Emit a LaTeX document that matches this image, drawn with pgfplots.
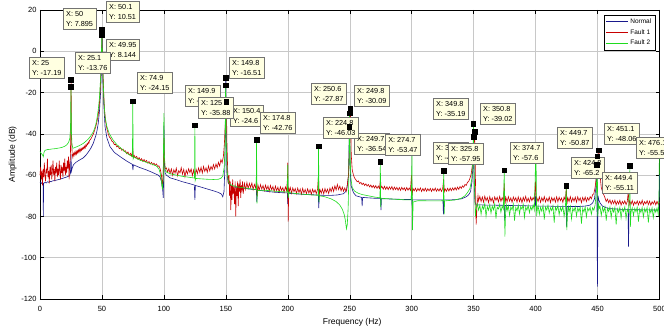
\documentclass[border=0pt]{standalone}
\usepackage{fontspec}
\setmainfont{Liberation Sans}
\usepackage{pgfplots}
\pgfplotsset{compat=1.18}
\definecolor{cN}{RGB}{25,25,140}
\definecolor{cFa}{RGB}{200,0,0}
\definecolor{cFb}{RGB}{30,220,30}
\definecolor{tipfill}{RGB}{255,255,225}
\definecolor{gridc}{RGB}{200,200,200}
\tikzset{tip/.style={draw=black!55, fill=tipfill, line width=0.4pt, anchor=north west, align=left, inner xsep=3pt, inner ysep=2.8pt, font=\fontsize{7.3}{10}\selectfont}}
\newcommand\tip[4]{\node[tip] at (axis cs:#1,#2) {X: #3\\Y: #4};}
\begin{document}
\begin{tikzpicture}
\begin{axis}[name=ax,
  scale only axis, width=619.5pt, height=289pt,
  xmin=0, xmax=500, ymin=-120, ymax=20,
  xtick={0,50,...,500}, ytick={-120,-100,...,20},
  grid=major, major grid style={gridc, line width=0.45pt},
  tick align=inside, major tick length=4pt,
  axis line style={black, line width=0.6pt},
  tick style={black, line width=0.5pt},
  clip=false,
  /pgf/number format/assume math mode=true,
  ticklabel style={font=\fontsize{7.5}{8}\selectfont},
  xticklabel style={yshift=-3.5pt},
  xlabel={Frequency (Hz)}, ylabel={Amplitude (dB)},
  label style={font=\fontsize{8.5}{9}\selectfont},
  xlabel style={at={(axis description cs:0.504,-0.079)}, anchor=center},
  ylabel style={at={(axis description cs:-0.044,0.5)}, anchor=center},
  legend style={at={(rel axis cs:0.9927,0.983)}, anchor=north east, font=\fontsize{6.5}{7}\selectfont, draw=black, line width=0.4pt, inner sep=1.5pt, row sep=0.5pt, cells={anchor=west}},
  legend image code/.code={\draw[#1, line width=0.8pt] (0pt,0pt) -- (22pt,0pt);},
  every axis plot/.append style={line width=0.6pt},
]
\addplot[cN, mark=none] coordinates {
(0,-63.5)(1,-64)(2,-63.4)(2.5,-64)(2.7,-80)(2.9,-64)(4,-63.5)(5,-63.8)(6,-63.2)(7,-63.5)(8,-63)(9,-63.2)(10,-62.8)(12,-62.6)(14,-62.3)(16,-62)(18,-61.6)(20,-61.2)(22,-60.8)(23,-60.5)(24,-60)(24.6,-59)(25,-50)(25.4,-58)(26,-56.5)(27,-55)(29,-53.8)(31,-53)(33,-52.3)(35,-51.6)(37,-50.4)(39,-48.8)(41,-47)(43,-44.6)(45,-41)(46,-38.5)(47,-35)(48,-29)(49,-19)(49.5,-10)(49.8,-1)(50.1,10.51)(50.4,-3)(50.8,-14)(51.5,-26)(52.5,-36.5)(54,-42)(56.5,-46.2)(60,-49)(64.6,-51)(70,-53.2)(74.6,-54.8)(75,-57.5)(75.4,-55)(80,-56.2)(86,-57.5)(90,-58.5)(95.5,-60)(97,-61)(98,-63)(99,-67)(99.5,-71)(99.8,-60)(100,-36)(100.3,-52)(101,-59)(102,-60)(105,-61.3)(110,-62.2)(115,-63.2)(120,-64)(124.6,-64.8)(125,-72)(125.4,-65)(130,-65.8)(135,-66.7)(140,-67.6)(144,-68.4)(146.5,-69.2)(147.5,-70.5)(148.5,-68)(149.3,-55)(149.9,-12.85)(150.3,-40)(151,-60)(152,-64)(155,-65.6)(160,-66)(165,-66.4)(170,-66.8)(174.6,-67)(175,-73)(175.4,-67.2)(180,-67.6)(185,-68)(190,-68.3)(195,-68.5)(199.6,-68.6)(200,-74)(200.4,-68.8)(205,-69)(210,-69.2)(215,-69.4)(220,-69.5)(224.6,-69.6)(225,-76)(225.4,-69.7)(230,-69.8)(235,-69.8)(240,-69.6)(245,-69)(247.5,-67.5)(249,-60)(249.7,-36.5)(250.2,-55)(251,-65)(253,-68.5)(255,-70)(258,-70.5)(259.6,-70.8)(260,-75)(260.4,-70.8)(265,-71)(270,-71.2)(274.8,-71.3)(275.2,-77)(275.6,-71.4)(280,-71.5)(285,-71.6)(290,-71.7)(295,-71.8)(299.6,-71.8)(300,-62)(300.3,-75)(300.7,-72)(305,-72)(310,-72)(315,-72)(320,-72)(325.2,-72)(325.6,-79)(326,-72)(330,-72)(335,-71.9)(340,-71.5)(344,-70.5)(346,-69.5)(347.5,-68)(348.7,-63)(349.4,-55)(349.9,-41.5)(350.4,-62)(351,-73)(352,-74.5)(355,-74.4)(360,-74.5)(365,-74.5)(370,-74.6)(374.6,-74.6)(375,-82)(375.4,-74.7)(380,-74.7)(385,-74.8)(390,-74.8)(395,-74.9)(399.6,-74.9)(400,-70)(400.4,-75)(405,-75)(410,-75)(415,-75.1)(420,-75.1)(424.6,-75.1)(425,-85)(425.4,-75.2)(430,-75.2)(435,-75.2)(440,-75)(444,-74.5)(446,-73.5)(447.5,-71.5)(448.7,-66)(449.4,-55.11)(449.9,-114)(450.4,-70)(451,-72)(452,-73.5)(454,-75)(457,-75.8)(460,-76.2)(465,-76.4)(470,-76.6)(474.6,-76.6)(475,-94.6)(475.4,-76.7)(480,-76.7)(485,-76.8)(490,-76.8)(495,-76.9)(499.6,-76.9)(500,-60)
};
\addlegendentry{Normal}
\addplot[cFa, mark=none] coordinates {
(0,-60)(0.5,-56)(1,-62)(1.5,-58)(2,-65)(2.5,-57)(3,-61)(3.5,-54)(4,-60)(4.5,-63)(5,-57)(5.5,-59)(6,-52)(6.5,-61)(7,-58)(7.5,-64)(8,-56)(8.5,-60)(9,-55)(9.5,-62)(10,-58)(10.5,-53)(11,-60)(11.5,-57)(12,-63)(12.5,-56)(13,-59)(13.5,-54)(14,-61)(14.5,-57)(15,-60)(15.5,-53)(16,-58)(16.5,-62)(17,-55)(17.5,-59)(18,-56)(18.5,-61)(19,-54)(19.5,-58)(20,-52)(20.5,-60)(21,-56)(21.5,-59)(22,-53)(22.5,-57)(23,-51)(23.5,-62)(24,-54)(24.5,-52)(24.8,-40)(25.1,-13.76)(25.4,-42)(26,-50)(26.5,-51.5)(27,-49.5)(27.5,-50.5)(28,-49)(28.5,-50)(29,-48.5)(29.5,-49.8)(30,-48.2)(30.5,-49.2)(31,-47.8)(31.5,-48.9)(32,-47.5)(32.5,-48.5)(33,-47.2)(33.5,-48)(34,-46.8)(34.5,-47.5)(35,-46.5)(35.5,-47.2)(36,-46)(36.5,-46.8)(37,-45.4)(37.5,-46)(38,-44.8)(38.5,-45.2)(39,-44)(39.5,-44.5)(40,-43.2)(41,-42.5)(42,-41.4)(43,-40.2)(44,-38.5)(45,-36.5)(46,-34)(47,-31)(48,-25)(48.8,-16)(49.4,-7)(49.8,0)(50,7.895)(50.3,-2)(50.8,-10)(51.4,-20)(52,-28)(53,-34)(54,-37.5)(55,-39.8)(56,-41.5)(57,-42.2)(58,-43.5)(59,-44)(60,-45.2)
(61,-45.1)(62,-46.3)(63,-45.9)(64,-47.2)(65,-46.8)(66,-48)(67,-47.4)(68,-48.6)(69,-48.2)(70,-49.6)(71,-48.8)(72,-50.2)(73,-49.5)(74,-50.8)(74.9,-47)(75.3,-51.5)(76,-50.4)(77,-51.6)(78,-50.9)(79,-52.3)(80,-51.5)(81,-52.8)(82,-52)(83,-53.3)(84,-52.4)(85,-53.6)(86,-52.9)(87,-54.2)(88,-53.4)(89,-54.6)(90,-53.8)(91,-55)(92,-54.2)(93,-55.3)(94,-54.6)(95,-55.8)(96,-55.5)(97,-57)(98,-60)(98.8,-66)(99.5,-58)(100,-42)(100.4,-52)(101,-57)(102,-56.5)(103,-58.5)(104,-56.8)(105,-59.2)(106,-57)(107,-60)(108,-57.4)(109,-59)(110,-56.6)(111,-60.3)(112,-57.8)(113,-58.9)(114,-56.4)(115,-59.6)(116,-57.2)(117,-60.8)(118,-57.6)(119,-59.4)(120,-56.9)(121,-58.8)(122,-57)(123,-60.2)(124,-57.5)(125,-61)(126,-57.1)(127,-59.3)(128,-56.5)(129,-58.7)(130,-56.2)(131,-59)(132,-55.8)(133,-58.2)(134,-56.4)(135,-58.6)(136,-55.5)(137,-57.9)(138,-55.8)(139,-57.3)(140,-54.9)(141,-57)(142,-54.6)(143,-56.4)(144,-53.8)(145,-55.6)(146,-52.5)(147,-54)(148,-51)(148.8,-45)(149.6,-35)(150.4,-24.6)(150.9,-45)(151.5,-58)(152,-64)(152.6,-60)(153,-70)(153.5,-63)(154,-77)(154.5,-65)(155,-72)(155.5,-62)(156,-69)(156.5,-66)(157,-74)(157.5,-63)(158,-80)(158.5,-66)(159,-70)(159.5,-63)(160,-75)(160.5,-64)(161,-68)(161.5,-62)(162,-71)(162.5,-65)(163,-67)(163.5,-63)(164,-69)(165,-64)(166,-67)(167,-63.5)(168,-66.5)(169,-64)(170,-66)(171,-63.8)(172,-67)(173,-64.5)(174,-66.2)(174.8,-62)(175.3,-70)(176,-65)(177,-67.2)(178,-64.6)(179,-66.8)(180,-65)(181,-67.5)(182,-64.8)(183,-66.9)(184,-65.2)(185,-67.8)(186,-65)(187,-67.1)(188,-65.5)(189,-68)(190,-65.3)(191,-67.6)(192,-65.8)(193,-68.2)(194,-65.6)(195,-67.4)(196,-66)(197,-68.3)(198,-65.7)(199,-67.5)(199.7,-62)(200,-54)(200.3,-82.5)(200.8,-66)(201,-68.5)(202,-66)(203,-68.8)(204,-66.2)(205,-68)(206,-66.5)(207,-69)(208,-66.3)(209,-68.4)(210,-66.7)(211,-69.2)(212,-66.4)(213,-68.6)(214,-66.9)(215,-69)(216,-66.6)(217,-68.7)(218,-67)(219,-69.3)(220,-66.8)(221,-68.5)(222,-67.1)(223,-69)(224,-66.9)(224.8,-60)(225.3,-70)(226,-67)(227,-68.8)(228,-66.7)(229,-69.1)(230,-66.5)(231,-68.4)(232,-66.8)(233,-68.9)(234,-66.3)(235,-68)(236,-65.8)(237,-67.9)(238,-65.2)(239,-67.2)(240,-64.5)(241,-67)(242,-65.3)(243,-67.6)(244,-65.8)(245,-67.8)(246,-66.2)(247,-68)(248,-65)(249,-60)(249.8,-45)(250.6,-27.87)(251.2,-50)(252,-57.5)(253,-60)(254,-61.5)(255,-62.3)(256,-63.2)(257,-62.8)(258,-64.1)(259,-63.5)(260,-64.6)(261,-63.9)(262,-65)(263,-64.2)(264,-65.3)(265,-64.5)(266,-65.7)(267,-64.8)(268,-66)(269,-65)(270,-66.2)(271,-65.1)(272,-66.4)(273,-65.3)(274,-66.5)(274.8,-62)(275.3,-66)(276,-65.5)(277,-66.8)(278,-65.4)(279,-66.9)(280,-65.6)(281,-67)(282,-65.7)(283,-66.8)(284,-65.5)(285,-67.2)(286,-65.8)(287,-67)(288,-65.9)(289,-67.3)(290,-66)(291,-67.4)(292,-65.9)(293,-67.1)(294,-66.1)(295,-67.5)(296,-66)(297,-67.3)(298,-66.2)(299,-67.4)(299.8,-60)(300.3,-70)(301,-66.5)(302,-67.6)(303,-66.3)(304,-67.8)(305,-66.4)(306,-67.5)(307,-66.2)(308,-67.9)(309,-66.5)(310,-67.7)(311,-66.3)(312,-67.8)(313,-66.6)(314,-67.6)(315,-66.4)(316,-67.9)(317,-66.5)(318,-67.6)(319,-66.3)(320,-67.8)(321,-66.6)(322,-67.7)(323,-66.4)(324,-67.9)(325,-66.5)(325.8,-62)(326.3,-68)(327,-66.6)(328,-67.8)(329,-66.4)(330,-67.7)(331,-66.3)(332,-67.5)(333,-66.2)(334,-67.3)(335,-66)(336,-67.2)(337,-65.8)(338,-66.9)(339,-65.5)(340,-66.4)(341,-65.2)(342,-65.9)(343,-64.5)(344,-65)(345,-63.5)(346,-63)(347,-61.5)(348,-59.5)(349,-55)(349.8,-48)(350.8,-39.02)(351.4,-60)(352,-84)(352.7,-75)(353.5,-70)(354,-72.5)(355,-70.3)(356,-72.8)(357,-70.6)(358,-73.1)(359,-70.2)(360,-72.4)(361,-70.8)(362,-73.3)(363,-70.4)(364,-72.6)(365,-71)(366,-73.4)(367,-70.5)(368,-72.2)(369,-70.7)(370,-73)(371,-70.3)(372,-72.7)(373,-70.9)(374,-72.5)(374.7,-64)(375.3,-74)(376,-70.8)(377,-72.9)(378,-70.4)(379,-72.6)(380,-71)(381,-73.2)(382,-70.6)(383,-72.3)(384,-70.9)(385,-73.1)(386,-70.5)(387,-72.8)(388,-71)(389,-73.4)(390,-70.7)(391,-72.5)(392,-70.3)(393,-72.9)(394,-71.1)(395,-73)(396,-70.6)(397,-72.4)(398,-70.8)(399,-72.2)(400,-63)(400.5,-73)(401,-71)(402,-72.8)(403,-70.5)(404,-73.2)(405,-70.9)(406,-72.6)(407,-70.4)(408,-73)(409,-71.2)(410,-72.7)(411,-70.6)(412,-73.3)(413,-70.8)(414,-72.5)(415,-71)(416,-73.1)(417,-70.5)(418,-72.9)(419,-70.7)(420,-72.4)(421,-71.1)(422,-73.2)(423,-70.6)(424,-72.3)(424.8,-66)(425.3,-74)(426,-70.9)(427,-72.8)(428,-70.4)(429,-73)(430,-71)(431,-72.6)(432,-70.7)(433,-73.1)(434,-70.5)(435,-72.4)(436,-71)(437,-73.3)(438,-70.8)(439,-72.5)(440,-70.6)(441,-72.8)(442,-70.9)(443,-72.2)(444,-70.4)(445,-71.5)(446,-69.5)(447,-69)(448,-66)(449,-61)(450,-55)(451.1,-48)(451.8,-58)(452.5,-63)(453,-66)(454,-68)(455,-69.5)(456,-71)(457,-72.8)(458,-71.6)(459,-73.4)(460,-72)(461,-74.1)(462,-72.3)(463,-73.8)(464,-72.1)(465,-74.4)(466,-72.6)(467,-74)(468,-72.2)(469,-74.5)(470,-72.7)(471,-73.9)(472,-72.4)(473,-74.3)(474,-72.8)(474.8,-68)(475.4,-75)(476,-72.5)(477,-74.2)(478,-72.3)(479,-74.6)(480,-72.9)(481,-74)(482,-72.5)(483,-74.4)(484,-72.7)(485,-74.1)(486,-72.2)(487,-74.5)(488,-72.8)(489,-73.9)(490,-72.4)(491,-74.3)(492,-72.6)(493,-74.6)(494,-72.9)(495,-74)(496,-72.5)(497,-74.4)(498,-72.7)(499,-74.2)(500,-73)
};
\addlegendentry{Fault 1}
\addplot[cFb, mark=none] coordinates {
(0,-48.6)(1,-49.5)(2,-50.2)(2.7,-51)(3.2,-49)(4,-48)(5,-47.8)(6,-47.6)(8,-47.5)(10,-47.3)(12,-47.2)(14,-47)(16,-46.8)(18,-46.5)(20,-46)(21,-45.6)(22,-45)(23,-44.2)(24,-42.5)(24.6,-38)(25,-17.19)(25.3,-38)(25.8,-45)(26.5,-47)(27.5,-46.8)(29,-46.4)(31,-45.9)(33,-45.3)(35,-44.6)(37,-43.6)(39,-42.5)(41,-41)(43,-39)(44,-37.5)(45,-35.5)(46,-32.5)(47,-28.4)(48,-22.5)(48.8,-14)(49.4,-5)(49.95,8.144)(50.4,-4)(51,-15)(51.7,-25)(52.5,-31.7)(54,-36.5)(56,-40)(59,-43)(62,-45.2)(65,-46.8)(70,-49.4)(74.6,-51)(74.9,-24.15)(75.2,-52)(75.6,-51.2)(80.7,-52.7)(85,-53.6)(90,-54.6)(94,-55.6)(96,-57)(97,-59)(98,-63)(98.8,-67)(99.4,-62)(100,-30)(100.4,-50)(101,-57.5)(102,-58.5)(105,-59.3)(110,-60)(115,-60.6)(120,-61)(124.7,-61.4)(125,-35.88)(125.3,-62.5)(125.7,-61.6)(130,-61.8)(135,-62)(140,-62.1)(144,-62)(146,-61.5)(147.5,-60.5)(148.7,-56)(149.4,-45)(149.8,-16.51)(150.3,-45)(151,-58)(152,-63)(153,-64.2)(155,-65)(160,-65.8)(165,-66.2)(170,-66.6)(174.5,-67)(174.8,-42.76)(175.1,-73.7)(175.5,-67.5)(180,-67.3)(185,-67.5)(190,-67.8)(195,-68)(199.6,-68.2)(200,-55)(200.4,-71)(200.8,-68.4)(205,-68.8)(210,-69.1)(215,-69.4)(220,-69.6)(224.5,-69.8)(224.8,-46.03)(225.2,-73)(225.6,-70)(230,-70.5)(235,-71.5)(239,-72.8)(242,-74.5)(244,-76.5)(245.5,-79)(246.5,-82)(247.3,-86)(248,-84)(248.7,-76)(249.3,-60)(249.8,-30.09)(250.3,-52)(251,-62)(252,-66)(254,-67.8)(257,-68.8)(260,-69.4)(265,-70)(270,-70.6)(274.4,-71)(274.7,-53.47)(275,-75.5)(275.4,-71.2)(280,-71.4)(285,-71.6)(290,-71.8)(295,-72)(299.7,-72)(300.2,-50.2)(300.6,-86.6)(301.2,-73)(305,-72.4)(310,-72.4)(315,-72.5)(320,-72.5)(325.5,-72.4)(325.8,-57.95)(326.2,-79)(326.6,-72.5)(330,-72.3)(335,-72)(340,-71.2)(343,-70)(345,-68.5)(347,-66.5)(348.5,-62)(349.3,-52)(349.8,-35.19)(350.3,-55)(350.8,-68)(351.4,-80)(352,-76)
(353,-74)(354,-77)(355,-74.5)(356,-79)(357,-75)(358,-76.5)(359,-73.8)(360,-80)(361,-75.2)(362,-77)(363,-74.3)(364,-78.5)(365,-75)(366,-76.8)(367,-73.9)(368,-81)(369,-75.5)(370,-76.4)(371,-74.2)(372,-78)(373,-75)(374,-76.5)(374.7,-57.6)(375.2,-89.8)(375.8,-78)(376.5,-74.5)(377,-77.2)(378,-74.8)(379,-79.5)(380,-75.4)(381,-76.8)(382,-74)(383,-82)(384,-75.6)(385,-77.3)(386,-74.5)(387,-78.8)(388,-75.2)(389,-76.5)(390,-74.1)(391,-80.5)(392,-75.5)(393,-77)(394,-74.6)(395,-78.2)(396,-75.3)(397,-76.9)(398,-74.4)(399,-77)(400.3,-45.4)(400.8,-80)(401.5,-76)(402,-74.8)(403,-79)(404,-75.6)(405,-77.5)(406,-74.7)(407,-81.5)(408,-75.4)(409,-76.9)(410,-74.5)(411,-78.4)(412,-75.8)(413,-77.2)(414,-74.9)(415,-83)(416,-75.5)(417,-77)(418,-74.6)(419,-79.2)(420,-75.7)(421,-77.4)(422,-75)(423,-80)(424,-76)(424.8,-65.2)(425.2,-86.6)(425.8,-78)(426.5,-75.5)(427,-77.8)(428,-75.1)(429,-81.2)(430,-76)(431,-77.5)(432,-75.2)(433,-79.8)(434,-75.8)(435,-77.6)(436,-75.3)(437,-83.5)(438,-76.2)(439,-77.8)(440,-75.4)(441,-80.2)(442,-75.9)(443,-77.3)(444,-75.5)(445,-79)(446,-75.8)(447,-77)(448,-74.5)(449,-68)(449.7,-50.87)(450.2,-80)(450.8,-74)(451.5,-76)(452,-75.2)(453,-79.5)(454,-75.6)(455,-77.8)(456,-75.3)(457,-82)(458,-76)(459,-77.6)(460,-75.4)(461,-80.5)(462,-76.1)(463,-77.9)(464,-75.5)(465,-84)(466,-76.3)(467,-78)(468,-75.6)(469,-80.8)(470,-76.2)(471,-77.7)(472,-75.4)(473,-81)(474,-76.5)(475,-78)(475.8,-65)(476.1,-55.5)(476.5,-85)(477,-78)(478,-75.8)(479,-79.6)(480,-76.1)(481,-77.8)(482,-75.5)(483,-82.5)(484,-76.4)(485,-78.1)(486,-75.7)(487,-80.3)(488,-76.2)(489,-77.9)(490,-75.6)(491,-83)(492,-76.3)(493,-78.2)(494,-75.8)(495,-80.6)(496,-76.4)(497,-78)(498,-75.9)(499,-79)(499.6,-70)(500,-43)
};
\addlegendentry{Fault 2}
\addplot[forget plot, only marks, mark=square*, mark size=2.3pt, black] coordinates {
(25,-17.19)(25.1,-13.76)(50,7.895)(50.1,10.51)(49.95,8.144)(74.9,-24.15)(149.9,-12.85)(149.8,-16.51)(125,-35.88)(150.4,-24.6)(174.8,-42.76)(250.6,-27.87)(249.8,-30.09)(224.8,-46.03)(249.7,-36.5)(274.7,-53.47)(349.8,-35.19)(350.8,-39.02)(349.9,-41.5)(325.8,-57.95)(374.7,-57.6)(449.7,-50.87)(451.1,-48)(424.8,-65.2)(449.4,-55.11)(476.1,-55.5)
};
\tip{-8.9}{-2.77}{25}{-17.19}
\tip{18.6}{20.97}{50}{7.895}
\tip{53.3}{24.36}{50.1}{10.51}
\tip{53.3}{5.95}{49.95}{8.144}
\tip{28.2}{-0.34}{25.1}{-13.76}
\tip{78.3}{-10.03}{74.9}{-24.15}
\tip{117.0}{-16.33}{149.9}{-12.85}
\tip{153.3}{-26.0}{150.4}{-24.6}
\tip{127.5}{-22.14}{125}{-35.88}
\tip{152.5}{-2.77}{149.8}{-16.51}
\tip{177.6}{-29.4}{174.8}{-42.76}
\tip{218.7}{-15.36}{250.6}{-27.87}
\tip{253.4}{-16.33}{249.8}{-30.09}
\tip{253.4}{-39.58}{249.7}{-36.54}
\tip{228.4}{-31.83}{224.8}{-46.03}
\tip{278.5}{-40.07}{274.7}{-53.47}
\tip{317.2}{-22.63}{349.8}{-35.19}
\tip{355.1}{-25.05}{350.8}{-39.02}
\tip{317.2}{-43.94}{349.9}{-41.52}
\tip{329.3}{-44.43}{325.8}{-57.95}
\tip{379.3}{-43.94}{374.7}{-57.6}
\tip{417.3}{-36.67}{449.7}{-50.87}
\tip{428.6}{-51.21}{424.8}{-65.2}
\tip{453.6}{-58.47}{449.4}{-55.11}
\tip{455.2}{-34.74}{451.1}{-48.06}
\tip{481.0}{-41.52}{476.1}{-55.52}
\end{axis}
\pgfresetboundingbox
\path[use as bounding box] ([shift={(-40pt,-27pt)}]ax.south west) rectangle ([shift={(624pt,299pt)}]ax.south west);
\end{tikzpicture}
\end{document}
